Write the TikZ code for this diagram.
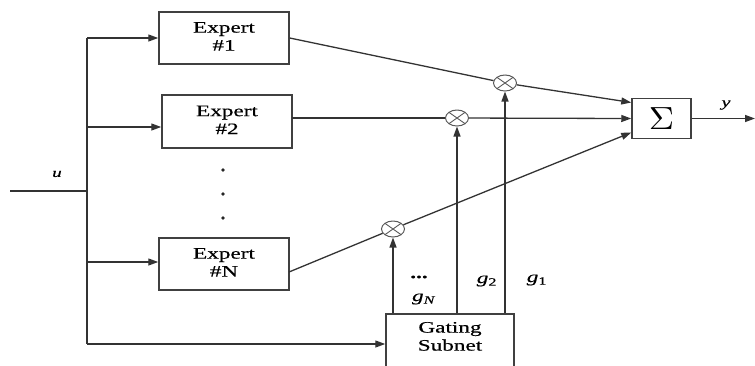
\documentclass[tikz,border=0pt]{standalone}
\usepackage{graphicx}
\usepackage{fontspec}
\setmainfont{Liberation Serif}
\newfontfamily\heavy{Liberation Serif}[FakeBold=0.4]
\usetikzlibrary{arrows.meta,shapes.geometric}
\newcommand{\sx}[1]{\scalebox{1.45}[1]{#1}}
\newcommand{\twoline}[2]{\sx{\heavy\begin{tabular}{@{}c@{}}#1\\#2\end{tabular}}}
\begin{document}
\begin{tikzpicture}[x=1pt,y=-1pt,
  ln/.style={line width=1.3pt, draw=black!80},
  arr/.style={ln, -{Triangle[length=10pt,width=7pt]}},
  blk/.style={draw=black!75, line width=1.5pt, minimum width=130pt, minimum height=52pt, inner sep=0pt, font=\fontsize{16}{18}\selectfont},
  mul/.style={ellipse, draw=black!65, line width=1pt, minimum width=23pt, minimum height=16pt, inner sep=0pt},
  lbl/.style={inner sep=0pt, font=\heavy\fontsize{16}{18}\selectfont}]
\useasboundingbox (0,0) rectangle (755,365);
% blocks
\node[blk] (e1) at (224,38) {\twoline{Expert}{\#1}};
\node[blk, minimum height=53pt] (e2) at (227,121.5) {\twoline{Expert}{\#2}};
\node[blk] (eN) at (224,264) {\twoline{Expert}{\#N}};
\node[blk, minimum width=128pt, minimum height=62pt] (gate) at (450,345) {};
\node[lbl] (gtxt) at (450,338) {\twoline{Gating}{Subnet}};
\node[draw=black!75, line width=1.5pt, minimum width=59pt, minimum height=40pt, inner sep=0pt] (sig) at (661.5,118.5) {\scalebox{3.5}[3.2]{$\Sigma$}};
% multipliers
\node[mul] (m1) at (505,83) {};
\node[mul] (m2) at (457,118) {};
\node[mul] (m3) at (393,229) {};
\foreach \m in {m1,m2,m3} {
  \draw[draw=black!65, line width=0.9pt] ([shift={(-8.1,-5.7)}]\m.center) -- ([shift={(8.1,5.7)}]\m.center);
  \draw[draw=black!65, line width=0.9pt] ([shift={(-8.1,5.7)}]\m.center) -- ([shift={(8.1,-5.7)}]\m.center);
}
% vertical dots
\fill[black!85] (223,170) circle[radius=1.8pt];
\fill[black!85] (223,194) circle[radius=1.8pt];
\fill[black!85] (223,218) circle[radius=1.8pt];
% input bus
\coordinate (in) at (10,191);
\coordinate (bj) at (87,191);
\coordinate (bt) at (87,38);
\coordinate (b2) at (87,127);
\coordinate (bN) at (87,262);
\coordinate (bb) at (87,344);
\draw[ln] (in) -- (bj);
\draw[ln] (bt) -- (bb);
\draw[arr] (bt) -- (e1.west);
\draw[arr] (b2) -- (b2 -| e2.west);
\draw[arr] (bN) -- (bN -| eN.west);
\draw[arr] (bb) -- (bb -| gate.west);
% expert outputs
\coordinate (o2) at (292,118);
\coordinate (oN) at (289,272);
\draw[ln] (e1.east) -- (m1);
\draw[arr] (m1) -- ([yshift=16pt]sig.west);
\draw[ln] (o2) -- (m2);
\draw[arr] (m2) -- (sig.west);
\draw[ln] (oN) -- (m3);
\draw[arr] (m3) -- ([yshift=-14pt]sig.west);
% gating outputs
\draw[arr] (m3 |- gate.north) -- (m3);
\draw[arr] (m2 |- gate.north) -- (m2);
\draw[arr] (m1 |- gate.north) -- (m1);
% output
\coordinate (out) at (755,118.5);
\draw[arr] (sig.east) -- (out);
% labels
\node[lbl, font=\heavy\fontsize{13}{15}\selectfont] (lu) at (57,174) {\sx{\textit{u}}};
\node[lbl, font=\heavy\fontsize{14}{16}\selectfont] (ly) at (726,105) {\sx{\textit{y}}};
\node[lbl] (ld) at (419,277) {\sx{\textbf{...}}};
\node[lbl] (lgN) at (424,299) {\sx{\textit{g}\textsubscript{\textit{N}}}};
\node[lbl] (lg2) at (487,281) {\sx{\textit{g}\textsubscript{2}}};
\node[lbl] (lg1) at (537,280) {\sx{\textit{g}\textsubscript{1}}};
\end{tikzpicture}
\end{document}
